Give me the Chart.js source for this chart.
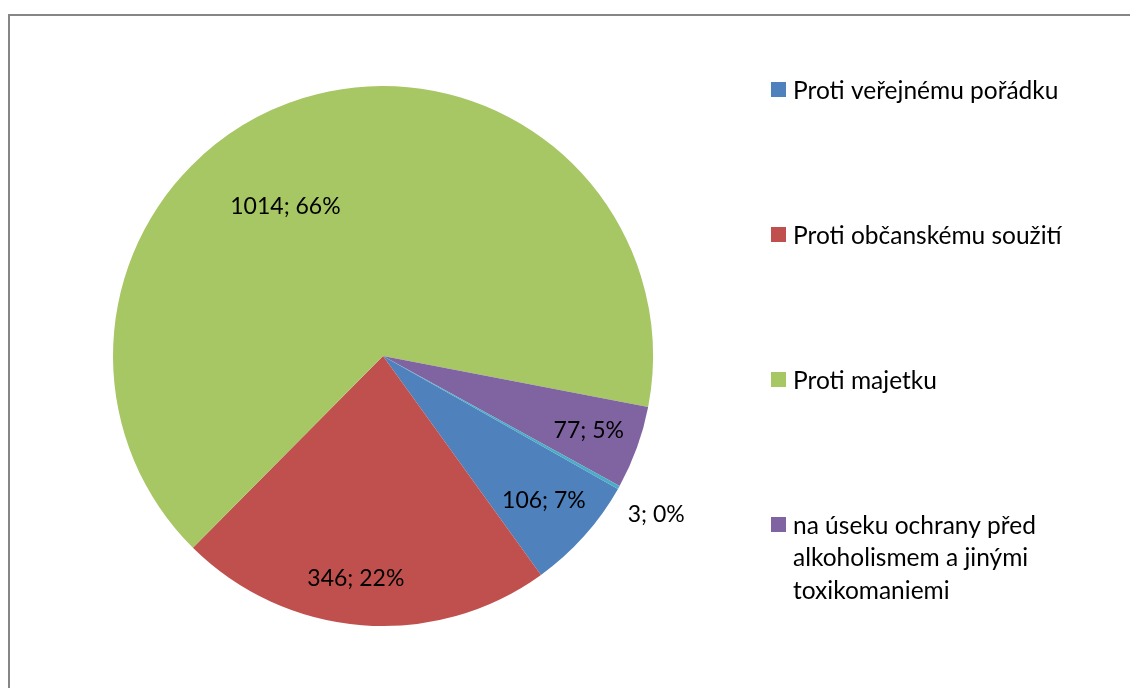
<!DOCTYPE html>
<html>
<head>
<meta charset="utf-8">
<script src="https://cdn.jsdelivr.net/npm/chart.js@4.4.0/dist/chart.umd.min.js"></script>
<style>
  html, body { margin: 0; padding: 0; background: #fff; }
</style>
</head>
<body>
<canvas id="myChart" width="1130" height="688"></canvas>
<script>
// data
const categories = [
  'Proti veřejnému pořádku',
  'Proti občanskému soužití',
  'Proti majetku',
  'na úseku ochrany před alkoholismem a jinými toxikomaniemi',
  ''
];
const counts = [106, 346, 1014, 77, 3];
const sliceColors = ['#4F81BD', '#C0504D', '#A7C664', '#8064A2', '#4BACC6'];

const FONT = 'Lato, "Noto Sans", sans-serif';

// where each data label sits: fraction of radius and angle shift (deg)
const labelRadius = [0.8, 0.83, 0.66, 0.81, 1.17];
const labelShift = [0, 2.5, -16, 0, 1];

const frame = {
  id: 'frame',
  beforeDraw(chart) {
    const ctx = chart.ctx;
    ctx.save();
    ctx.strokeStyle = '#868686';
    ctx.lineWidth = 2;
    ctx.strokeRect(9, 15, 1300, 900);
    ctx.restore();
  }
};

const sliceLabels = {
  id: 'sliceLabels',
  afterDatasetsDraw(chart) {
    const ctx = chart.ctx;
    const meta = chart.getDatasetMeta(0);
    const values = chart.data.datasets[0].data;
    const total = values.reduce((a, b) => a + b, 0);
    ctx.save();
    ctx.font = '23px ' + FONT;
    ctx.fillStyle = '#000';
    ctx.textAlign = 'center';
    ctx.textBaseline = 'middle';
    meta.data.forEach((arc, i) => {
      const p = arc.getProps(['x', 'y', 'startAngle', 'endAngle', 'outerRadius'], true);
      const mid = (p.startAngle + p.endAngle) / 2 + labelShift[i] * Math.PI / 180;
      const r = p.outerRadius * labelRadius[i];
      const pct = Math.round(values[i] / total * 100);
      ctx.fillText(values[i] + '; ' + pct + '%', p.x + Math.cos(mid) * r, p.y + Math.sin(mid) * r);
    });
    ctx.restore();
  }
};

function wrapText(ctx, text, maxW) {
  const words = text.split(' ');
  const lines = [];
  let line = '';
  words.forEach((w) => {
    const test = line ? line + ' ' + w : w;
    if (ctx.measureText(test).width > maxW && line) {
      lines.push(line);
      line = w;
    } else {
      line = test;
    }
  });
  if (line) lines.push(line);
  return lines;
}

const sideLegend = {
  id: 'sideLegend',
  afterDraw(chart) {
    const ctx = chart.ctx;
    const labels = chart.data.labels;
    const colors = chart.data.datasets[0].backgroundColor;
    ctx.save();
    ctx.font = '24.5px ' + FONT;
    ctx.textBaseline = 'middle';
    ctx.textAlign = 'left';
    labels.forEach((lab, i) => {
      if (!lab) return;
      const y = 90 + i * 145;
      ctx.fillStyle = colors[i];
      ctx.fillRect(771, y - 8, 15, 15);
      ctx.fillStyle = '#000';
      wrapText(ctx, lab, 310).forEach((ln, k) => {
        ctx.fillText(ln, 793, y + 1 + k * 32.5);
      });
    });
    ctx.restore();
  }
};

const ctx = document.getElementById('myChart').getContext('2d');
const myChart = new Chart(ctx, {
  type: 'pie',
  data: {
    labels: categories,
    datasets: [
      {
        data: counts,
        backgroundColor: sliceColors,
        borderWidth: 0,
        hoverOffset: 0,
      },
    ],
  },
  options: {
    responsive: false,
    animation: false,
    rotation: 119.5,
    layout: {
      padding: { left: 113, right: 477, top: 86, bottom: 62 },
    },
    plugins: {
      legend: { display: false },
      tooltip: { enabled: false },
    },
  },
  plugins: [frame, sliceLabels, sideLegend],
});
</script>
</body>
</html>
